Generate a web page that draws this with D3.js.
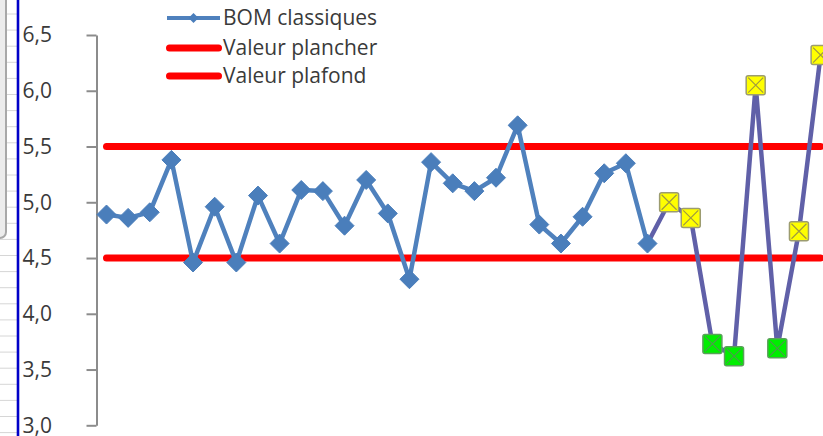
<!DOCTYPE html>
<html>
<head>
<meta charset="utf-8">
<script src="https://cdn.jsdelivr.net/npm/d3@7"></script>
<style>
  html, body { margin: 0; padding: 0; background: #fff; }
  svg { display: block; }
</style>
</head>
<body>
<svg id="chart" width="823" height="436"></svg>
<script>
// Série de mesures classiques (losanges bleus)
const bomClassiques = [4.89, 4.86, 4.91, 5.38, 4.46, 4.96, 4.46, 5.06, 4.63, 5.11,
                       5.10, 4.79, 5.20, 4.90, 4.31, 5.36, 5.17, 5.10, 5.22, 5.69,
                       4.80, 4.63, 4.87, 5.26, 5.35, 4.63];
// Mesures suivantes (carrés), tracées dans le prolongement de la série
const bomSuivi = [5.00, 4.86, 3.73, 3.62, 6.05, 3.69, 4.74, 6.32];
// Seuils
const valeurPlancher = 4.5;
const valeurPlafond = 5.5;
// Graduations de l'axe vertical
const yTicks = [3.0, 3.5, 4.0, 4.5, 5.0, 5.5, 6.0, 6.5];
// Légende
const legendLabels = ["BOM classiques", "Valeur plancher", "Valeur plafond"];

const svg = d3.select("#chart");
const W = 823, H = 436;

// ---- fond de feuille de calcul à gauche ----
const sheet = svg.append("g");
d3.range(14, H, 16.1).forEach(y => {
  sheet.append("line").attr("x1", 0).attr("x2", 18).attr("y1", y).attr("y2", y)
    .attr("stroke", "#d6d6d6").attr("stroke-width", 1);
});
sheet.append("rect").attr("x", -12).attr("y", -12).attr("width", 18).attr("height", 250)
  .attr("rx", 6).attr("fill", "#ececec").attr("stroke", "#a8a8a8").attr("stroke-width", 2);
sheet.append("line").attr("x1", 18).attr("x2", 18).attr("y1", 0).attr("y2", H)
  .attr("stroke", "#0000c8").attr("stroke-width", 2.6);

// ---- échelles ----
const n = bomClassiques.length + bomSuivi.length;
const x = d3.scaleLinear().domain([0, n - 1]).range([106.5, 820.6]);
const y = d3.scaleLinear().domain([3, 6.5]).range([425.3, 35]);

const fr = d3.formatLocale({ decimal: ",", thousands: " ", grouping: [3], currency: ["", " €"] });
const fmt = fr.format(".1f");

// ---- axe vertical ----
const axis = d3.axisLeft(y).tickValues(yTicks).tickFormat(fmt)
  .tickSize(10).tickSizeOuter(0).tickPadding(34.5);
const gAxis = svg.append("g").attr("transform", "translate(96.5,0)").call(axis);
gAxis.select(".domain").attr("stroke", "#8c8c8c").attr("stroke-width", 2);
gAxis.selectAll(".tick line").attr("stroke", "#8c8c8c").attr("stroke-width", 2);
gAxis.selectAll(".tick text").attr("fill", "#3a3a3a")
  .style("font-family", "'Open Sans', 'Liberation Sans', sans-serif").style("font-size", "21px");

// ---- seuils ----
[valeurPlancher, valeurPlafond].forEach(v => {
  svg.append("line").attr("x1", x(0)).attr("x2", x(n - 1))
    .attr("y1", y(v)).attr("y2", y(v))
    .attr("stroke", "#ff0000").attr("stroke-width", 7).attr("stroke-linecap", "round");
});

// ---- ligne des mesures suivantes (part du dernier point classique) ----
const suiviPts = [{ i: bomClassiques.length - 1, v: bomClassiques[bomClassiques.length - 1] }]
  .concat(bomSuivi.map((v, k) => ({ i: bomClassiques.length + k, v })));
const line = d3.line().x(d => x(d.i)).y(d => y(d.v));
svg.append("path").datum(suiviPts).attr("d", line)
  .attr("fill", "none").attr("stroke", "#6060a8").attr("stroke-width", 4.5)
  .attr("stroke-linejoin", "round");

// ---- ligne classique ----
const classPts = bomClassiques.map((v, i) => ({ i, v }));
svg.append("path").datum(classPts).attr("d", line)
  .attr("fill", "none").attr("stroke", "#4f81bd").attr("stroke-width", 4.5)
  .attr("stroke-linejoin", "round");

// losanges
const diamond = r => `M0,${-r}L${r},0L0,${r}L${-r},0Z`;
svg.append("g").selectAll("path").data(classPts).join("path")
  .attr("transform", d => `translate(${x(d.i)},${y(d.v)})`)
  .attr("d", diamond(9.5)).attr("fill", "#4a7ebb").attr("stroke", "#4a7ebb").attr("stroke-width", 1);

// carrés : vert sous le plancher, jaune sinon
const sq = 9.5;
const gSq = svg.append("g").selectAll("g").data(suiviPts.slice(1)).join("g")
  .attr("transform", d => `translate(${x(d.i)},${y(d.v)})`);
gSq.append("rect").attr("x", -sq).attr("y", -sq).attr("width", 2 * sq).attr("height", 2 * sq).attr("rx", 2)
  .attr("fill", d => d.v < valeurPlancher ? "#00ee00" : "#ffff00")
  .attr("stroke", d => d.v < valeurPlancher ? "#5aa05a" : "#9c9c70").attr("stroke-width", 1.5);
gSq.append("path").attr("d", `M${-sq + 2},${-sq + 2}L${sq - 2},${sq - 2}M${sq - 2},${-sq + 2}L${-sq + 2},${sq - 2}`)
  .attr("stroke", d => d.v < valeurPlancher ? "#4c9a4c" : "#a09a40").attr("stroke-width", 1.2);

// ---- légende ----
const lg = svg.append("g");
const ly = [18, 48, 76];
lg.append("line").attr("x1", 167).attr("x2", 220).attr("y1", ly[0]).attr("y2", ly[0])
  .attr("stroke", "#4f81bd").attr("stroke-width", 4);
lg.append("path").attr("transform", `translate(193.5,${ly[0]})`).attr("d", diamond(5)).attr("fill", "#4a7ebb");
[1, 2].forEach(k => {
  lg.append("line").attr("x1", 169.5).attr("x2", 218.5).attr("y1", ly[k]).attr("y2", ly[k])
    .attr("stroke", "#ff0000").attr("stroke-width", 7).attr("stroke-linecap", "round");
});
lg.selectAll("text").data(legendLabels).join("text")
  .attr("x", 223).attr("y", (d, k) => ly[k]).attr("dy", "0.35em")
  .attr("fill", "#3a3a3a")
  .style("font-family", "'Open Sans', 'Liberation Sans', sans-serif").style("font-size", "21px")
  .text(d => d);
</script>
</body>
</html>
